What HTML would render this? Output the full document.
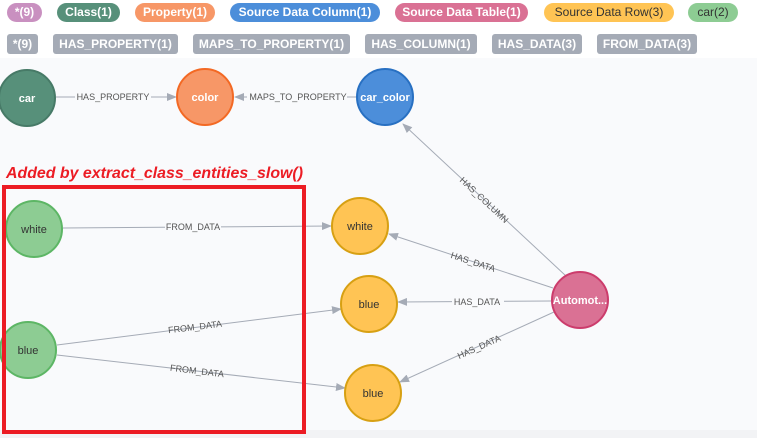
<!DOCTYPE html>
<html><head><meta charset="utf-8"><style>
body{margin:0;width:757px;height:438px;overflow:hidden;background:#fff;font-family:"Liberation Sans",sans-serif;position:relative}
.p{position:absolute;height:19px;line-height:19px;font-size:12px;font-weight:bold;color:#fff;text-align:center;border-radius:10px}
.r{position:absolute;height:20px;line-height:20px;font-size:12px;font-weight:bold;color:#fff;text-align:center;border-radius:3px;background:#a5abb6}
</style></head><body>
<div style="position:absolute;left:0;top:58px;width:757px;height:372px;background:#f9fafc"></div>
<div style="position:absolute;left:0;top:430px;width:757px;height:8px;background:#f2f3f5"></div>
<div class="p" style="left:7px;top:3px;width:35px;background:#c990c0">*(9)</div>
<div class="p" style="left:57px;top:3px;width:63px;background:#57907a">Class(1)</div>
<div class="p" style="left:135px;top:3px;width:80px;background:#f79767">Property(1)</div>
<div class="p" style="left:230px;top:3px;width:150px;background:#4c8eda">Source Data Column(1)</div>
<div class="p" style="left:395px;top:3px;width:133px;background:#da7194">Source Data Table(1)</div>
<div class="p" style="left:544px;top:3px;width:130px;background:#ffc454;color:#333;font-weight:normal">Source Data Row(3)</div>
<div class="p" style="left:688px;top:3px;width:50px;background:#8dcc93;color:#333;font-weight:normal">car(2)</div>
<div class="r" style="left:7px;top:34px;width:31px">*(9)</div>
<div class="r" style="left:53px;top:34px;width:125px">HAS_PROPERTY(1)</div>
<div class="r" style="left:193px;top:34px;width:157px">MAPS_TO_PROPERTY(1)</div>
<div class="r" style="left:365px;top:34px;width:112px">HAS_COLUMN(1)</div>
<div class="r" style="left:492px;top:34px;width:90px">HAS_DATA(3)</div>
<div class="r" style="left:597px;top:34px;width:100px">FROM_DATA(3)</div>
<svg style="position:absolute;left:0;top:0" width="757" height="438" font-family="Liberation Sans, sans-serif">
<defs><marker id="a" markerWidth="10" markerHeight="8" refX="9" refY="4" orient="auto" markerUnits="userSpaceOnUse"><path d="M0,0L10,4L0,8z" fill="#a5abb6"/></marker></defs>
<g stroke="#a5abb6" stroke-width="1" fill="none" marker-end="url(#a)">
<path d="M56,97L176,97"/><path d="M356,97L235,97"/>
<path d="M566,276L403,124"/>
<path d="M553,288L389,234"/><path d="M551,301L398,302"/><path d="M554,312L400,382"/>
<path d="M63,228L331,226"/><path d="M57,345L341,309"/><path d="M57,355L345,388"/>
</g>
<g font-size="9" fill="#555" text-anchor="middle">
<rect x="75" y="91" width="76" height="11" fill="#f9fafc"/><text x="113" y="100">HAS_PROPERTY</text>
<rect x="247" y="91" width="100" height="11" fill="#f9fafc"/><text x="298" y="100">MAPS_TO_PROPERTY</text>
<text transform="translate(484,200) rotate(43)" fill="#555"><tspan x="0" y="3">HAS_COLUMN</tspan></text>
<text transform="translate(473,262) rotate(18)"><tspan x="0" y="3">HAS_DATA</tspan></text>
<rect x="452" y="297" width="52" height="10" fill="#f9fafc"/><text x="477" y="305">HAS_DATA</text>
<text transform="translate(479,347) rotate(-24)"><tspan x="0" y="3">HAS_DATA</tspan></text>
<rect x="165" y="222" width="56" height="10" fill="#f9fafc"/><text x="193" y="230">FROM_DATA</text>
<text transform="translate(195,327) rotate(-7)"><tspan x="0" y="3">FROM_DATA</tspan></text>
<text transform="translate(197,371) rotate(7)"><tspan x="0" y="3">FROM_DATA</tspan></text>
</g>
<g stroke-width="2" font-size="11" text-anchor="middle">
<circle cx="27" cy="98" r="28" fill="#57907a" stroke="#477a67"/><text x="27" y="102" fill="#fff" font-weight="bold" stroke="none">car</text>
<circle cx="205" cy="97" r="28" fill="#f79767" stroke="#f36924"/><text x="205" y="101" fill="#fff" font-weight="bold" stroke="none">color</text>
<circle cx="385" cy="97" r="28" fill="#4c8eda" stroke="#2870c2"/><text x="385" y="101" fill="#fff" font-weight="bold" stroke="none">car_color</text>
<circle cx="580" cy="300" r="28" fill="#da7194" stroke="#cc3c6c"/><text x="580" y="304" fill="#fff" font-weight="bold" stroke="none">Automot...</text>
<circle cx="34" cy="229" r="28" fill="#8dcc93" stroke="#5db665"/><text x="34" y="233" fill="#333" stroke="none">white</text>
<circle cx="28" cy="350" r="28" fill="#8dcc93" stroke="#5db665"/><text x="28" y="354" fill="#333" stroke="none">blue</text>
<circle cx="360" cy="226" r="28" fill="#ffc454" stroke="#d7a013"/><text x="360" y="230" fill="#333" stroke="none">white</text>
<circle cx="369" cy="304" r="28" fill="#ffc454" stroke="#d7a013"/><text x="369" y="308" fill="#333" stroke="none">blue</text>
<circle cx="373" cy="393" r="28" fill="#ffc454" stroke="#d7a013"/><text x="373" y="397" fill="#333" stroke="none">blue</text>
</g>
<rect x="4" y="187" width="300" height="245" fill="none" stroke="#ec1c24" stroke-width="4"/>
<text x="6" y="178" fill="#ec1c24" font-size="16" font-weight="bold" font-family="Liberation Sans Narrow, Liberation Sans, sans-serif" font-style="italic" textLength="297" lengthAdjust="spacingAndGlyphs">Added by extract_class_entities_slow()</text>
</svg>
</body></html>
